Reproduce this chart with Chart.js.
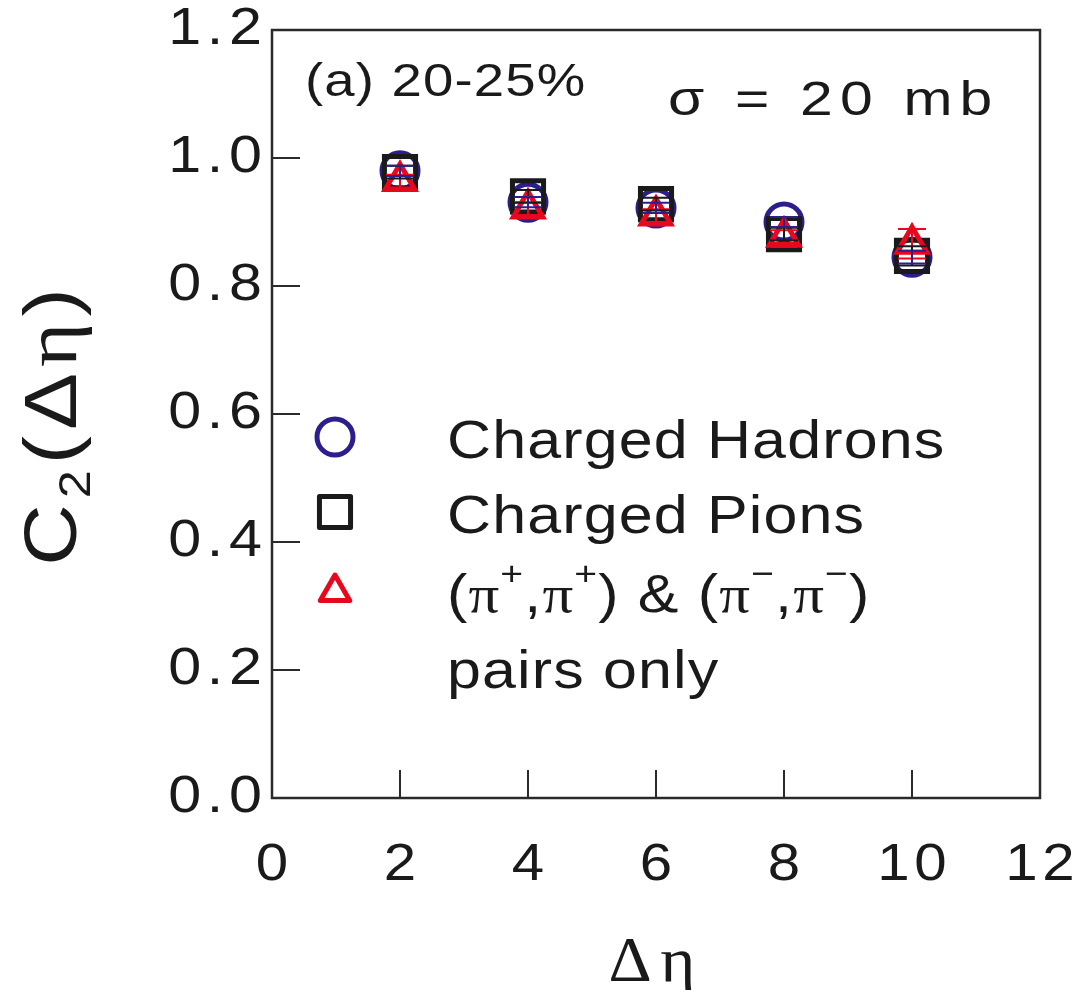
<!DOCTYPE html>
<html>
<head>
<meta charset="utf-8">
<script src="https://cdn.jsdelivr.net/npm/chart.js@4.4.0/dist/chart.umd.min.js"></script>
<style>
html,body{margin:0;padding:0;background:#fff;}
#wrap{width:1077px;height:990px;position:relative;}
</style>
</head>
<body>
<div id="wrap"><canvas id="c"></canvas></div>
<script>
// ---- data ----
const deltaEta = [2, 4, 6, 8, 10];
const hadrons = [0.980, 0.931, 0.922, 0.900, 0.845];
const hadronsErr = [0.008, 0.008, 0.008, 0.008, 0.010];
const pions = [0.978, 0.940, 0.928, 0.881, 0.847];
const pionsErr = [0.010, 0.010, 0.010, 0.010, 0.015];
const likePairs = [0.964, 0.921, 0.910, 0.877, 0.866];
const likePairsErr = [0.010, 0.010, 0.010, 0.010, 0.023];
const xTicks = [0, 2, 4, 6, 8, 10, 12];
const yTicks = [0.0, 0.2, 0.4, 0.6, 0.8, 1.0, 1.2];
const xTickLabels = ['0', '2', '4', '6', '8', '10', '12'];
const yTickLabels = ['0.0', '0.2', '0.4', '0.6', '0.8', '1.0', '1.2'];
const legendLabels = ['Charged Hadrons', 'Charged Pions', '(π⁺,π⁺) & (π⁻,π⁻)', 'pairs only'];
const panelLabel = '(a) 20-25%';
const sigmaLabel = 'σ = 20 mb';

const C_HAD = '#2c1f8c', C_PI = '#1a1a1a', C_PAIR = '#e8081e', C_TXT = '#1a1a1a';
const FONT = '"Liberation Sans", Arial, sans-serif';
const SERIF = '"Liberation Serif", serif';

const series = [
  {label: legendLabels[0], vals: hadrons, err: hadronsErr, color: C_HAD, style: 'circle', r: 18, order: 3},
  {label: legendLabels[1], vals: pions, err: pionsErr, color: C_PI, style: 'rect', r: 22, order: 2},
  {label: 'pairs', vals: likePairs, err: likePairsErr, color: C_PAIR, style: 'triangle', r: 17, order: 1}
];

function pts(vals){ return deltaEta.map((x,i)=>({x:x, y:vals[i]})); }

// draw horizontally stretched text; returns advance width
function sText(ctx, text, x, y, opt){
  const sx = opt.sx || 1, align = opt.align || 'left', sp = opt.sp || 0;
  ctx.save();
  ctx.font = opt.font;
  ctx.letterSpacing = sp + 'px';
  ctx.textAlign = 'left';
  ctx.textBaseline = opt.baseline || 'alphabetic';
  let w = ctx.measureText(text).width;
  if (sp) w -= sp;
  w *= sx;
  let left = x;
  if (align === 'center') left = x - w/2;
  else if (align === 'right') left = x - w;
  ctx.translate(left, y);
  ctx.scale(sx, 1);
  ctx.fillText(text, 0, 0);
  ctx.restore();
  return w + sp*sx;
}

function drawMarker(ctx, style, x, y, r, color){
  ctx.save();
  ctx.strokeStyle = color; ctx.lineWidth = 5; ctx.lineJoin = 'round';
  ctx.beginPath();
  if (style === 'circle') { ctx.arc(x, y, r, 0, Math.PI*2); }
  else if (style === 'rect') { const s = r*Math.SQRT1_2; ctx.rect(x-s, y-s, 2*s, 2*s); }
  else { const a = Math.PI*2/3; for (let k=0;k<3;k++){ const ang=k*a; const px=x+Math.sin(ang)*r, py=y-Math.cos(ang)*r; k?ctx.lineTo(px,py):ctx.moveTo(px,py);} ctx.closePath(); }
  ctx.stroke();
  ctx.restore();
}

const deco = {
  id: 'deco',
  afterDatasetsDraw(chart){
    const {ctx, scales:{x, y}} = chart;
    ctx.save();
    series.slice().reverse().forEach(s => {
      ctx.strokeStyle = s.color; ctx.lineWidth = 2;
      deltaEta.forEach((xv,i) => {
        const px = x.getPixelForValue(xv);
        const t = y.getPixelForValue(s.vals[i] + s.err[i]);
        const b = y.getPixelForValue(s.vals[i] - s.err[i]);
        ctx.beginPath();
        ctx.moveTo(px, t); ctx.lineTo(px, b);
        ctx.moveTo(px-14, t); ctx.lineTo(px+14, t);
        ctx.moveTo(px-14, b); ctx.lineTo(px+14, b);
        ctx.stroke();
      });
    });
    ctx.restore();
  },
  afterDraw(chart){
    const {ctx, chartArea:a, scales:{x, y}} = chart;
    ctx.save();
    // frame
    ctx.strokeStyle = '#2a2a2a'; ctx.lineWidth = 2.5;
    ctx.strokeRect(a.left, a.top, a.right-a.left, a.bottom-a.top);
    // inward ticks
    ctx.lineWidth = 2;
    ctx.beginPath();
    xTicks.slice(1,-1).forEach(v => { const px = x.getPixelForValue(v); ctx.moveTo(px, a.bottom); ctx.lineTo(px, a.bottom-28); });
    yTicks.slice(1,-1).forEach(v => { const py = y.getPixelForValue(v); ctx.moveTo(a.left, py); ctx.lineTo(a.left+28, py); });
    ctx.stroke();

    ctx.fillStyle = C_TXT;
    // tick labels, positioned by the scales
    const TF = '52px ' + FONT;
    xTicks.forEach((v,i) => sText(ctx, xTickLabels[i], x.getPixelForValue(v), 880, {font: TF, sx: 1.12, sp: 4, align: 'center'}));
    yTicks.forEach((v,i) => sText(ctx, yTickLabels[i], a.left - 10, y.getPixelForValue(v), {font: TF, sx: 1.14, sp: 5, align: 'right', baseline: 'middle'}));

    // panel labels
    sText(ctx, panelLabel, 305, 96, {font: '47px ' + FONT, sx: 1.16, sp: 1});
    sText(ctx, sigmaLabel, 668, 115, {font: '49px ' + FONT, sx: 1.2, sp: 6});

    // legend
    const lx = 335, tx = 447;
    drawMarker(ctx, 'circle', lx, 437, 18, C_HAD);
    drawMarker(ctx, 'rect', lx, 512, 22, C_PI);
    drawMarker(ctx, 'triangle', lx, 592, 17, C_PAIR);
    ctx.fillStyle = C_TXT;
    const LF = '53px ' + FONT, LS = 1.15;
    sText(ctx, legendLabels[0], tx, 458, {font: LF, sx: LS, sp: 1});
    sText(ctx, legendLabels[1], tx, 533, {font: LF, sx: LS, sp: 1});
    let cx = tx; const base = 612;
    const parts = [['(', 0], ['π', 0], ['+', 1], [',', 0], ['π', 0], ['+', 1], [') & (', 0], ['π', 0], ['−', 1], [',', 0], ['π', 0], ['−', 1], [')', 0]];
    parts.forEach(([t, sup]) => {
      if (sup) cx += sText(ctx, t, cx, base - 27, {font: '34px ' + FONT, sx: LS, sp: 1});
      else cx += sText(ctx, t, cx, base, {font: (t === 'π' ? '53px ' + SERIF : LF), sx: LS, sp: 1});
    });
    sText(ctx, legendLabels[3], tx, 688, {font: LF, sx: LS, sp: 1});

    // x title
    sText(ctx, 'Δη', (a.left + a.right)/2 - 4, 981, {font: '64px ' + SERIF, sx: 1.05, sp: 8, align: 'center'});

    // y title, rotated
    ctx.translate(76, 424);
    ctx.rotate(-Math.PI/2);
    const big = '74px ' + FONT, sub = '44px ' + FONT, ser = '74px ' + SERIF;
    const yparts = [['C', big, 0], ['2', sub, 14], ['(', big, 0], ['Δ', big, 0], ['η', ser, 0], [')', big, 0]];
    ctx.save();
    let w = 0;
    yparts.forEach(([t,f]) => { ctx.font = f; w += ctx.measureText(t).width * 1.15 + 6; });
    ctx.restore();
    let yx = -w/2;
    yparts.forEach(([t,f,dy]) => { yx += sText(ctx, t, yx, dy, {font: f, sx: 1.15}) + 6; });
    ctx.restore();
  }
};

new Chart(document.getElementById('c'), {
  type: 'scatter',
  data: {
    datasets: series.map(s => ({
      label: s.label, data: pts(s.vals), order: s.order,
      pointStyle: s.style, pointRadius: s.r, pointHoverRadius: s.r,
      borderColor: s.color, backgroundColor: 'rgba(0,0,0,0)', pointBorderWidth: 5, borderWidth: 5,
      showLine: false
    }))
  },
  options: {
    responsive: true, maintainAspectRatio: false, animation: false,
    layout: {autoPadding: false, padding: {left: 0, right: 37, top: 30, bottom: 0}},
    plugins: {legend: {display: false}, tooltip: {enabled: false}},
    scales: {
      x: {
        type: 'linear', min: 0, max: 12,
        afterBuildTicks: s => { s.ticks = xTicks.map(v => ({value: v})); },
        afterFit: s => { s.height = 192; },
        grid: {display: false, drawTicks: false},
        border: {display: false},
        ticks: {display: false}
      },
      y: {
        type: 'linear', min: 0, max: 1.2,
        afterBuildTicks: s => { s.ticks = yTicks.map(v => ({value: v})); },
        afterFit: s => { s.width = 272; },
        grid: {display: false, drawTicks: false},
        border: {display: false},
        ticks: {display: false}
      }
    }
  },
  plugins: [deco]
});
</script>
</body>
</html>
